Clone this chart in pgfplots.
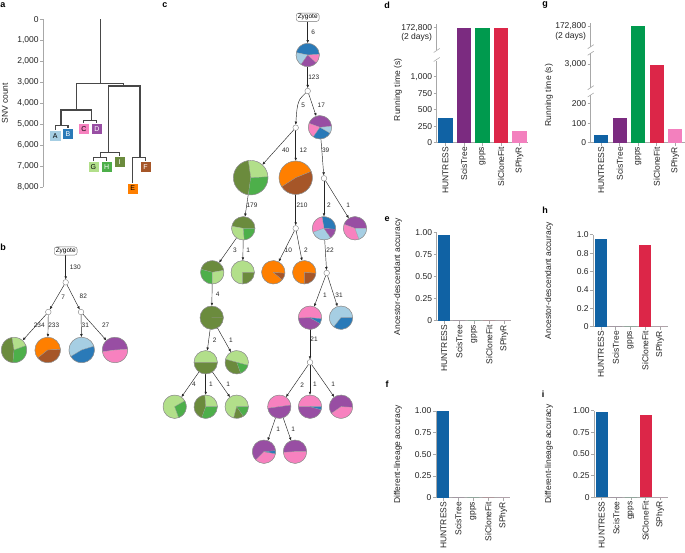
\nonstopmode
\documentclass[border=0pt]{standalone}
\usepackage{fontspec}
\setmainfont{Liberation Sans}
\usepackage{pgfplots}
\pgfplotsset{compat=1.18}
\usetikzlibrary{arrows.meta}
\definecolor{cLB}{HTML}{A6CEE3}
\definecolor{cB}{HTML}{2A7AB8}
\definecolor{cPk}{HTML}{F781BF}
\definecolor{cPu}{HTML}{984EA3}
\definecolor{cLG}{HTML}{B2DF8A}
\definecolor{cG}{HTML}{4DAF4A}
\definecolor{cOl}{HTML}{6B8B3D}
\definecolor{cOr}{HTML}{FF7F00}
\definecolor{cBr}{HTML}{A65628}
\definecolor{hun}{HTML}{1062A4}
\definecolor{sci}{HTML}{7B2B80}
\definecolor{gpp}{HTML}{009A4E}
\definecolor{sic}{HTML}{DC2648}
\definecolor{sph}{HTML}{F380BE}
\definecolor{axg}{HTML}{A8A8A8}
\definecolor{txt}{HTML}{222222}
\newcommand{\tfont}{\fontsize{8.5}{9.5}\selectfont}
\newcommand{\Wdg}[6]{\fill[#6,draw=black!40,line width=0.2pt] (axis cs:#1,#2) -- ++(#4:#3pt) arc[start angle=#4,end angle=#5,radius=#3pt] -- cycle;}
\newcommand{\Ring}[3]{\draw[black!45,line width=0.4pt] (axis cs:#1,#2) circle[radius=#3pt];}
\newcommand{\Edge}[6]{\addplot[treeedge,shorten <=#5pt,shorten >=#6pt] coordinates {(#1,#2) (#3,#4)};}
\newcommand{\ELbl}[3]{\node[elbl] at (axis cs:#1,#2) {#3};}
\tikzset{
  elbl/.style={font=\fontsize{6.5}{7}\selectfont,text=black!85,inner sep=0pt},
  zyg/.style={draw=black!55,rounded corners=2.5pt,fill=white,font=\fontsize{6.5}{7}\selectfont,inner xsep=1.5pt,inner ysep=1.2pt},
  plet/.style={font=\bfseries\fontsize{9}{9}\selectfont,text=black},
  blet/.style={font=\fontsize{7}{7}\selectfont,inner sep=0pt},
}
\pgfplotsset{
  treeedge/.style={draw=black!85,line width=0.45pt,-{Latex[length=3.2pt,width=2.6pt]},mark=none},
  dend/.style={draw=black!72,line width=1.1pt,mark=none},
  barax/.style={
    scale only axis, anchor=south west,
    axis lines=left, axis line style={-,draw=axg,line width=0.6pt},
    tick style={draw=axg,line width=0.6pt}, tick align=outside, major tick length=3pt,
    xtick={0,1,2,3,4}, xticklabels={HUNTRESS,ScisTree,gpps,SiCloneFit,SPhyR},
    xticklabel style={rotate=90,anchor=east,font=\tfont,text=txt,inner sep=1pt},
    yticklabel style={font=\tfont,text=txt,inner sep=1.5pt},
    ylabel style={font=\tfont,text=txt,anchor=center},
    ybar, enlargelimits=false, scaled y ticks=false,
    /pgf/number format/assume math mode=true,
  },
  brk/.style={axis x line=none, xtick=\empty},
  pa/.style={scale only axis, anchor=south west, at={(43.3pt,365.7pt)},
    width=106.7pt, height=168pt, xmin=43.3, xmax=150, ymin=0, ymax=8000, y dir=reverse, clip=false},
}
\begin{document}
\begin{tikzpicture}
\path[use as bounding box] (0,0) rectangle (685pt,553pt);

% ---------- panel a ----------
\begin{axis}[pa,
  axis y line=left, axis x line=none, axis line style={-,draw=axg,line width=0.6pt},
  tick style={draw=axg,line width=0.6pt}, tick align=outside, major tick length=3pt,
  ytick={0,1000,2000,3000,4000,5000,6000,7000,8000},
  yticklabels={0,{1,000},{2,000},{3,000},{4,000},{5,000},{6,000},{7,000},{8,000}},
  yticklabel style={font=\tfont,text=txt,inner sep=1.5pt},
  ylabel={SNV count}, ylabel style={font=\tfont,text=txt,at={(axis description cs:-0.36,0.5)},anchor=center}]
\addplot[dend] coordinates {(100.7,0) (100.7,3048)};
\addplot[dend] coordinates {(76.7,4317) (76.7,3048) (123.3,3048) (123.3,3175)};
\addplot[dend] coordinates {(61,5048) (61,4317) (91.7,4317) (91.7,4825)};
\addplot[dend] coordinates {(55.3,5556) (55.3,5048) (68,5048) (68,5476)};
\addplot[dend] coordinates {(83.8,5230) (83.8,4825) (96.8,4825) (96.8,5230)};
\addplot[dend] coordinates {(108.3,6349) (108.3,3175) (140,3175) (140,6571)};
\addplot[dend] coordinates {(100.7,6571) (100.7,6349) (119.5,6349) (119.5,6802)};
\addplot[dend] coordinates {(93.3,7040) (93.3,6571) (106.7,6571) (106.7,7040)};
\addplot[dend] coordinates {(132.7,8048) (132.7,6571) (145.5,6571) (145.5,7040)};
\addplot[only marks,mark=square*,mark size=5.5pt,mark options={fill=cLB,draw=white,line width=0.6pt}] coordinates {(55.3,5556)};
\addplot[only marks,mark=square*,mark size=5.5pt,mark options={fill=cB,draw=white,line width=0.6pt}] coordinates {(68,5476)};
\addplot[only marks,mark=square*,mark size=5.5pt,mark options={fill=cPk,draw=white,line width=0.6pt}] coordinates {(83.8,5230)};
\addplot[only marks,mark=square*,mark size=5.5pt,mark options={fill=cPu,draw=white,line width=0.6pt}] coordinates {(96.8,5230)};
\addplot[only marks,mark=square*,mark size=5.5pt,mark options={fill=cLG,draw=white,line width=0.6pt}] coordinates {(93.3,7040)};
\addplot[only marks,mark=square*,mark size=5.5pt,mark options={fill=cG,draw=white,line width=0.6pt}] coordinates {(106.7,7040)};
\addplot[only marks,mark=square*,mark size=5.5pt,mark options={fill=cOl,draw=white,line width=0.6pt}] coordinates {(119.5,6802)};
\addplot[only marks,mark=square*,mark size=5.5pt,mark options={fill=cOr,draw=white,line width=0.6pt}] coordinates {(132.7,8048)};
\addplot[only marks,mark=square*,mark size=5.5pt,mark options={fill=cBr,draw=white,line width=0.6pt}] coordinates {(145.5,7040)};
\end{axis}
\begin{axis}[pa, hide axis]
\node[blet] at (axis cs:55.3,5556) {A};
\node[blet,text=white] at (axis cs:68,5476) {B};
\node[blet] at (axis cs:83.8,5230) {C};
\node[blet,text=white] at (axis cs:96.8,5230) {D};
\node[blet] at (axis cs:93.3,7040) {G};
\node[blet,text=white] at (axis cs:106.7,7040) {H};
\node[blet,text=white] at (axis cs:119.5,6802) {I};
\node[blet] at (axis cs:132.7,8048) {E};
\node[blet,text=white] at (axis cs:145.5,7040) {F};
\end{axis}

% ---------- panels b and c (trees, pixel coordinates) ----------
\begin{axis}[scale only axis, anchor=south west, at={(0pt,0pt)}, width=410pt, height=553pt,
  xmin=0, xmax=410, ymin=0, ymax=553, y dir=reverse, hide axis, clip=false]
% b edges
\Edge{65.7}{251}{65.7}{282.3}{4.5}{2.8}
\Edge{65.7}{282.3}{48.3}{312}{2.8}{2.8}
\Edge{65.7}{282.3}{81}{312}{2.8}{2.8}
\Edge{48.3}{312}{14}{350}{2.8}{12.8}
\Edge{48.3}{312}{47.7}{350}{2.8}{12.8}
\Edge{81}{312}{81.7}{350}{2.8}{12.8}
\Edge{81}{312}{115}{350}{2.8}{12.8}
% c edges
\Edge{307.7}{17.3}{307.7}{55}{4.5}{11.7}
\Edge{307.7}{55}{307.7}{91}{11.7}{2.8}
\addplot[treeedge,smooth,shorten <=2.8pt,shorten >=2.8pt] coordinates {(307.7,91) (298,104) (295.7,127.7)};
\Edge{307.7}{91}{320}{127.3}{2.8}{11.7}
\Edge{320}{127.3}{324}{178.3}{11.7}{2.8}
\Edge{295.7}{127.7}{250.7}{177.7}{2.8}{17.3}
\Edge{295.7}{127.7}{295.7}{177.7}{2.8}{16.7}
\Edge{250.7}{177.7}{243.3}{228.3}{17.3}{11.7}
\Edge{295.7}{177.7}{295.7}{228.3}{16.7}{2.8}
\Edge{324}{178.3}{324}{228.3}{2.8}{11.7}
\Edge{324}{178.3}{355}{228.3}{2.8}{11.7}
\Edge{243.3}{228.3}{212.3}{272.3}{11.7}{11.7}
\Edge{243.3}{228.3}{242.7}{272.3}{11.7}{11.7}
\Edge{295.7}{228.3}{273.3}{272.3}{2.8}{11.7}
\Edge{295.7}{228.3}{304.3}{272.3}{2.8}{11.7}
\Edge{324}{228.3}{326.7}{273}{11.7}{2.8}
\Edge{212.3}{272.3}{211.7}{317.7}{11.7}{11.7}
\Edge{326.7}{273}{310}{317.7}{2.8}{11.7}
\Edge{326.7}{273}{341}{317.7}{2.8}{11.7}
\Edge{211.7}{317.7}{205.7}{362.3}{11.7}{11.7}
\Edge{211.7}{317.7}{236.7}{362.3}{11.7}{11.7}
\Edge{310}{317.7}{310}{362.3}{11.7}{2.8}
\Edge{205.7}{362.3}{174.7}{406.7}{11.7}{11.7}
\Edge{205.7}{362.3}{205.7}{406.7}{11.7}{11.7}
\Edge{205.7}{362.3}{236.7}{406.7}{11.7}{11.7}
\Edge{310}{362.3}{279.3}{406.7}{2.8}{11.7}
\Edge{310}{362.3}{310}{406.7}{2.8}{11.7}
\Edge{310}{362.3}{341}{406.7}{2.8}{11.7}
\Edge{279.3}{406.7}{264}{451.7}{11.7}{11.7}
\Edge{279.3}{406.7}{295}{451.7}{11.7}{11.7}
% b pies
\Wdg{14}{350}{12.8}{20}{100}{cLG}\Wdg{14}{350}{12.8}{100}{265}{cOl}\Wdg{14}{350}{12.8}{265}{380}{cG}\Ring{14}{350}{12.8}
\Wdg{47.7}{350}{12.8}{3}{219}{cOr}\Wdg{47.7}{350}{12.8}{219}{363}{cBr}\Ring{47.7}{350}{12.8}
\Wdg{81.7}{350}{12.8}{17}{211}{cLB}\Wdg{81.7}{350}{12.8}{211}{377}{cB}\Ring{81.7}{350}{12.8}
\Wdg{115}{350}{12.8}{3}{188}{cPu}\Wdg{115}{350}{12.8}{188}{363}{cPk}\Ring{115}{350}{12.8}
% c pies
\Wdg{307.7}{55}{11.7}{3}{168}{cB}\Wdg{307.7}{55}{11.7}{168}{235}{cLB}\Wdg{307.7}{55}{11.7}{235}{318}{cPu}\Wdg{307.7}{55}{11.7}{318}{363}{cPk}\Ring{307.7}{55}{11.7}
\Wdg{320}{127.3}{11.7}{5}{160}{cPu}\Wdg{320}{127.3}{11.7}{160}{235}{cPk}\Wdg{320}{127.3}{11.7}{235}{330}{cB}\Wdg{320}{127.3}{11.7}{330}{365}{cLB}\Ring{320}{127.3}{11.7}
\Wdg{250.7}{177.7}{17.3}{3}{98}{cLG}\Wdg{250.7}{177.7}{17.3}{98}{262}{cOl}\Wdg{250.7}{177.7}{17.3}{262}{363}{cG}\Ring{250.7}{177.7}{17.3}
\Wdg{295.7}{177.7}{16.7}{22}{213}{cOr}\Wdg{295.7}{177.7}{16.7}{213}{382}{cBr}\Ring{295.7}{177.7}{16.7}
\Wdg{243.3}{228.3}{11.7}{0}{170}{cOl}\Wdg{243.3}{228.3}{11.7}{170}{275}{cLG}\Wdg{243.3}{228.3}{11.7}{275}{360}{cG}\Ring{243.3}{228.3}{11.7}
\Wdg{324}{228.3}{11.7}{-5}{100}{cB}\Wdg{324}{228.3}{11.7}{100}{200}{cPk}\Wdg{324}{228.3}{11.7}{200}{305}{cLB}\Wdg{324}{228.3}{11.7}{305}{355}{cPu}\Ring{324}{228.3}{11.7}
\Wdg{355}{228.3}{11.7}{0}{160}{cPu}\Wdg{355}{228.3}{11.7}{160}{290}{cPk}\Wdg{355}{228.3}{11.7}{290}{360}{cLB}\Ring{355}{228.3}{11.7}
\Wdg{212.3}{272.3}{11.7}{10}{165}{cOl}\Wdg{212.3}{272.3}{11.7}{165}{270}{cG}\Wdg{212.3}{272.3}{11.7}{270}{370}{cLG}\Ring{212.3}{272.3}{11.7}
\Wdg{242.7}{272.3}{11.7}{0}{270}{cLG}\Wdg{242.7}{272.3}{11.7}{270}{360}{cOl}\Ring{242.7}{272.3}{11.7}
\Wdg{273.3}{272.3}{11.7}{-5}{320}{cOr}\Wdg{273.3}{272.3}{11.7}{320}{355}{cBr}\Ring{273.3}{272.3}{11.7}
\Wdg{304.3}{272.3}{11.7}{-5}{270}{cOr}\Wdg{304.3}{272.3}{11.7}{270}{355}{cBr}\Ring{304.3}{272.3}{11.7}
\Wdg{211.7}{317.7}{11.7}{0}{360}{cOl}\Ring{211.7}{317.7}{11.7}
\Wdg{310}{317.7}{11.7}{-5}{182}{cPk}\Wdg{310}{317.7}{11.7}{182}{330}{cPu}\Wdg{310}{317.7}{11.7}{330}{355}{cB}\Ring{310}{317.7}{11.7}
\Wdg{341}{317.7}{11.7}{0}{232}{cLB}\Wdg{341}{317.7}{11.7}{232}{360}{cB}\Ring{341}{317.7}{11.7}
\Wdg{205.7}{362.3}{11.7}{0}{180}{cLG}\Wdg{205.7}{362.3}{11.7}{180}{360}{cOl}\Ring{205.7}{362.3}{11.7}
\Wdg{236.7}{362.3}{11.7}{-15}{165}{cLG}\Wdg{236.7}{362.3}{11.7}{165}{290}{cOl}\Wdg{236.7}{362.3}{11.7}{290}{345}{cG}\Ring{236.7}{362.3}{11.7}
\Wdg{174.7}{406.7}{11.7}{30}{290}{cLG}\Wdg{174.7}{406.7}{11.7}{290}{390}{cG}\Ring{174.7}{406.7}{11.7}
\Wdg{205.7}{406.7}{11.7}{0}{95}{cLG}\Wdg{205.7}{406.7}{11.7}{95}{250}{cOl}\Wdg{205.7}{406.7}{11.7}{250}{360}{cG}\Ring{205.7}{406.7}{11.7}
\Wdg{236.7}{406.7}{11.7}{0}{255}{cLG}\Wdg{236.7}{406.7}{11.7}{255}{305}{cOl}\Wdg{236.7}{406.7}{11.7}{305}{360}{cG}\Ring{236.7}{406.7}{11.7}
\Wdg{279.3}{406.7}{11.7}{8}{188}{cPk}\Wdg{279.3}{406.7}{11.7}{188}{368}{cPu}\Ring{279.3}{406.7}{11.7}
\Wdg{310}{406.7}{11.7}{0}{180}{cPk}\Wdg{310}{406.7}{11.7}{180}{345}{cPu}\Wdg{310}{406.7}{11.7}{345}{360}{cB}\Ring{310}{406.7}{11.7}
\Wdg{341}{406.7}{11.7}{-3}{215}{cPu}\Wdg{341}{406.7}{11.7}{215}{357}{cPk}\Ring{341}{406.7}{11.7}
\Wdg{264}{451.7}{11.7}{5}{225}{cPu}\Wdg{264}{451.7}{11.7}{225}{350}{cPk}\Wdg{264}{451.7}{11.7}{350}{365}{cB}\Ring{264}{451.7}{11.7}
\Wdg{295}{451.7}{11.7}{0}{183}{cPu}\Wdg{295}{451.7}{11.7}{183}{360}{cPk}\Ring{295}{451.7}{11.7}
% internal nodes
\addplot[only marks,mark=*,mark size=2.8pt,mark options={fill=white,draw=black!50,line width=0.4pt}] coordinates {
 (65.7,282.3) (48.3,312) (81,312)};
\addplot[only marks,mark=*,mark size=2.8pt,mark options={fill=white,draw=black!50,line width=0.4pt}] coordinates {
 (307.7,91) (295.7,127.7) (324,178.3) (295.7,228.3) (326.7,273) (310,362.3)};
\node[zyg] at (axis cs:65.7,251) {Zygote};
\node[zyg] at (axis cs:307.7,17.3) {Zygote};
% b labels
\ELbl{75.3}{267.5}{130}\ELbl{63.3}{297.3}{7}\ELbl{83.3}{296.7}{82}
\ELbl{39.3}{325.7}{234}\ELbl{53.7}{325.7}{233}\ELbl{85.3}{325.7}{31}\ELbl{105.7}{325.3}{27}
% c labels
\ELbl{313.3}{32.7}{6}\ELbl{313.7}{77.7}{123}\ELbl{303.3}{105}{5}\ELbl{321.3}{105}{17}
\ELbl{285.7}{150}{40}\ELbl{303.3}{150}{12}\ELbl{325.7}{150}{39}
\ELbl{252}{205.7}{179}\ELbl{302}{205.7}{210}\ELbl{329}{205.7}{2}\ELbl{348.3}{205.7}{1}
\ELbl{235}{250}{3}\ELbl{248.3}{250}{1}\ELbl{288.3}{250}{10}\ELbl{306}{250}{2}\ELbl{330}{250}{22}
\ELbl{217.7}{294.3}{4}\ELbl{325}{295}{1}\ELbl{339}{295}{31}
\ELbl{214.7}{340}{2}\ELbl{231}{340}{1}\ELbl{314}{339}{21}
\ELbl{194}{384}{4}\ELbl{211}{384}{1}\ELbl{228.3}{384}{1}\ELbl{302.3}{385}{2}\ELbl{315}{384}{1}\ELbl{333.3}{384}{1}
\ELbl{278.3}{429}{1}\ELbl{293.3}{429}{1}
\end{axis}

% ---------- panel d ----------
\begin{axis}[barax, at={(436.7pt,410.3pt)}, width=91.6pt, height=86.5pt,
  xmin=-0.48, xmax=4.48, ymin=0, ymax=1310, bar width=0.77,
  y filter/.expression={min(y,2000)},
  ytick={0,250,500,750,1000}, yticklabels={0,250,500,750,{1{,}000}},
  ylabel={Running time (s)}, ylabel style={at={(axis description cs:-0.4225,0.61)}}]
\addplot[fill=hun,draw=none,bar shift=0pt] coordinates {(0,370)};
\addplot[fill=sci,draw=none,bar shift=0pt] coordinates {(1,172800)};
\addplot[fill=gpp,draw=none,bar shift=0pt] coordinates {(2,172800)};
\addplot[fill=sic,draw=none,bar shift=0pt] coordinates {(3,172800)};
\addplot[fill=sph,draw=none,bar shift=0pt] coordinates {(4,182)};
\end{axis}
\begin{axis}[barax, brk, at={(436.7pt,496.8pt)}, width=91.6pt, height=32.2pt,
  xmin=-0.48, xmax=4.48, ymin=150000, ymax=175760, bar width=0.77,
  ytick={172800}, yticklabels={{172{,}800\\(2 days)}},
  yticklabel style={align=right,anchor=north east,yshift=5pt}]
\addplot[fill=sci,draw=none,bar shift=0pt] coordinates {(1,172800)};
\addplot[fill=gpp,draw=none,bar shift=0pt] coordinates {(2,172800)};
\addplot[fill=sic,draw=none,bar shift=0pt] coordinates {(3,172800)};
\end{axis}

% ---------- panel e ----------
\begin{axis}[barax, at={(436.7pt,232.3pt)}, width=74.3pt, height=88pt,
  xmin=-0.5, xmax=4.45, ymin=0, ymax=1, bar width=0.82,
  ytick={0,0.25,0.5,0.75,1}, yticklabels={0,0.25,0.50,0.75,1.00},
  ylabel={Ancestor-descendant accuracy}, ylabel style={at={(axis description cs:-0.521,0.5)}}]
\addplot[fill=hun,draw=none,bar shift=0pt] coordinates {(0,0.97)};
\addplot[fill=sci,draw=none,bar shift=0pt] coordinates {(1,0)};
\addplot[fill=gpp,draw=none,bar shift=0pt] coordinates {(2,0)};
\addplot[fill=sic,draw=none,bar shift=0pt] coordinates {(3,0)};
\addplot[fill=sph,draw=none,bar shift=0pt] coordinates {(4,0)};
\end{axis}

% ---------- panel f ----------
\begin{axis}[barax, at={(436pt,55.3pt)}, width=74pt, height=86.7pt,
  xmin=-0.49, xmax=4.45, ymin=0, ymax=1, bar width=0.8,
  ytick={0,0.25,0.5,0.75,1}, yticklabels={0,0.25,0.50,0.75,1.00},
  ylabel={Different-lineage accuracy}, ylabel style={at={(axis description cs:-0.514,0.5)}}]
\addplot[fill=hun,draw=none,bar shift=0pt] coordinates {(0,1.0)};
\addplot[fill=sci,draw=none,bar shift=0pt] coordinates {(1,0)};
\addplot[fill=gpp,draw=none,bar shift=0pt] coordinates {(2,0)};
\addplot[fill=sic,draw=none,bar shift=0pt] coordinates {(3,0)};
\addplot[fill=sph,draw=none,bar shift=0pt] coordinates {(4,0)};
\end{axis}

% ---------- panel g ----------
\begin{axis}[barax, at={(590.7pt,410.3pt)}, width=94.3pt, height=51.7pt,
  xmin=-0.57, xmax=4.53, ymin=0, ymax=265, bar width=0.77,
  y filter/.expression={min(y,400)},
  ytick={0,100,200}, yticklabels={0,100,200},
  ylabel={Running time (s)}, ylabel style={at={(axis description cs:-0.442,0.92)}}]
\addplot[fill=hun,draw=none,bar shift=0pt] coordinates {(0,40)};
\addplot[fill=sci,draw=none,bar shift=0pt] coordinates {(1,125)};
\addplot[fill=gpp,draw=none,bar shift=0pt] coordinates {(2,172800)};
\addplot[fill=sic,draw=none,bar shift=0pt] coordinates {(3,2980)};
\addplot[fill=sph,draw=none,bar shift=0pt] coordinates {(4,72)};
\end{axis}
\begin{axis}[barax, brk, at={(590.7pt,462pt)}, width=94.3pt, height=41pt,
  xmin=-0.57, xmax=4.53, ymin=2220, ymax=3420, bar width=0.77,
  y filter/.expression={min(y,5000)},
  ytick={3000}, yticklabels={{3{,}000}}]
\addplot[fill=gpp,draw=none,bar shift=0pt] coordinates {(2,172800)};
\addplot[fill=sic,draw=none,bar shift=0pt] coordinates {(3,2980)};
\end{axis}
\begin{axis}[barax, brk, at={(590.7pt,503pt)}, width=94.3pt, height=27.3pt,
  xmin=-0.57, xmax=4.53, ymin=150000, ymax=175940, bar width=0.77,
  ytick={172800}, yticklabels={{172{,}800\\(2 days)}},
  yticklabel style={align=right,anchor=north east,yshift=5pt}]
\addplot[fill=gpp,draw=none,bar shift=0pt] coordinates {(2,172800)};
\end{axis}

% ---------- panel h ----------
\begin{axis}[barax, at={(593.3pt,226.3pt)}, width=75pt, height=92pt,
  xmin=-0.52, xmax=4.56, ymin=0, ymax=1, bar width=0.83,
  ytick={0,0.2,0.4,0.6,0.8,1}, yticklabels={0,0.2,0.4,0.6,0.8,1.0},
  ylabel={Ancestor-descendant accuracy}, ylabel style={at={(axis description cs:-0.591,0.5)}}]
\addplot[fill=hun,draw=none,bar shift=0pt] coordinates {(0,0.95)};
\addplot[fill=sci,draw=none,bar shift=0pt] coordinates {(1,0)};
\addplot[fill=gpp,draw=none,bar shift=0pt] coordinates {(2,0)};
\addplot[fill=sic,draw=none,bar shift=0pt] coordinates {(3,0.89)};
\addplot[fill=sph,draw=none,bar shift=0pt] coordinates {(4,0)};
\end{axis}

% ---------- panel i ----------
\begin{axis}[barax, at={(594.3pt,55.7pt)}, width=74pt, height=86.6pt,
  xmin=-0.51, xmax=4.56, ymin=0, ymax=1, bar width=0.82,
  ytick={0,0.25,0.5,0.75,1}, yticklabels={0,0.25,0.50,0.75,1.00},
  ylabel={Different-lineage accuracy}, ylabel style={at={(axis description cs:-0.612,0.5)}}]
\addplot[fill=hun,draw=none,bar shift=0pt] coordinates {(0,0.99)};
\addplot[fill=sci,draw=none,bar shift=0pt] coordinates {(1,0)};
\addplot[fill=gpp,draw=none,bar shift=0pt] coordinates {(2,0)};
\addplot[fill=sic,draw=none,bar shift=0pt] coordinates {(3,0.95)};
\addplot[fill=sph,draw=none,bar shift=0pt] coordinates {(4,0)};
\end{axis}

% axis breaks
\fill[white] (433pt,492pt) rectangle (438pt,503pt);
\draw[axg,line width=0.6pt] (433.7pt,500.5pt) -- (439.7pt,504.5pt);
\draw[axg,line width=0.6pt] (433.7pt,491.5pt) -- (439.7pt,495.5pt);
\fill[white] (587pt,458pt) rectangle (592pt,465.3pt);
\draw[axg,line width=0.6pt] (587.7pt,463.3pt) -- (593.7pt,467.3pt);
\draw[axg,line width=0.6pt] (587.7pt,456pt) -- (593.7pt,460pt);
\fill[white] (587pt,499.7pt) rectangle (592pt,506.3pt);
\draw[axg,line width=0.6pt] (587.7pt,504.3pt) -- (593.7pt,508.3pt);
\draw[axg,line width=0.6pt] (587.7pt,497.7pt) -- (593.7pt,501.7pt);

% panel letters
\node[plet] at (3pt,548pt) {a};
\node[plet] at (3pt,306pt) {b};
\node[plet] at (165pt,548pt) {c};
\node[plet] at (387pt,548pt) {d};
\node[plet] at (387pt,334pt) {e};
\node[plet] at (387pt,169pt) {f};
\node[plet] at (545pt,548pt) {g};
\node[plet] at (545pt,343pt) {h};
\node[plet] at (543pt,159pt) {i};
\end{tikzpicture}
\end{document}
